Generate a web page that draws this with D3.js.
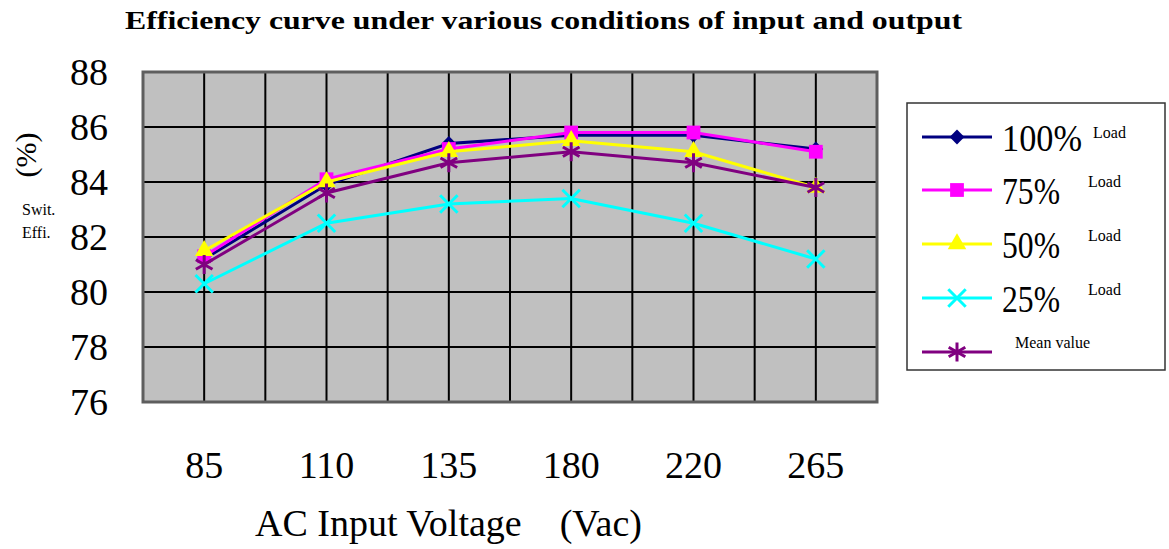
<!DOCTYPE html>
<html>
<head>
  <meta charset="utf-8"/>
  <title>Efficiency curve</title>
  <style>
    body { margin: 0; background: #fff; }
    svg text { font-family: "Liberation Serif", "DejaVu Serif", serif !important; }
  </style>
</head>
<body>
<div id="graph"></div>
<script src="https://cdn.jsdelivr.net/npm/d3@7/dist/d3.min.js"></script>
<script>
  // input voltages (Vac)
  var voltages = ["85", "110", "135", "180", "220", "265"];
  // efficiency (%) per load condition
  var load100 = [81.2, 83.9, 85.4, 85.7, 85.7, 85.2];
  var load75  = [81.3, 84.1, 85.2, 85.8, 85.8, 85.1];
  var load50  = [81.5, 84.0, 85.1, 85.5, 85.1, 83.8];
  var load25  = [80.3, 82.5, 83.2, 83.4, 82.5, 81.2];
  var meanVal = [81.0, 83.6, 84.7, 85.1, 84.7, 83.8];
  var yTicks = [76, 78, 80, 82, 84, 86, 88];

  var series = [
    {name: "100%", tag: "Load", values: load100, color: "#000080", sym: "diamond"},
    {name: "75%",  tag: "Load", values: load75,  color: "#ff00ff", sym: "square"},
    {name: "50%",  tag: "Load", values: load50,  color: "#ffff00", sym: "triangle"},
    {name: "25%",  tag: "Load", values: load25,  color: "#00ffff", sym: "times"},
    {name: "",     tag: "Mean value", values: meanVal, color: "#800080", sym: "asterisk"}
  ];

  var W = 1169, H = 549;
  var plot = {left: 143, right: 877, top: 72, bottom: 402};

  var svg = d3.select("#graph").append("svg")
      .attr("width", W).attr("height", H);

  var x = d3.scaleBand().domain(voltages).range([plot.left, plot.right]).padding(0);
  var y = d3.scaleLinear().domain([76, 88]).range([plot.bottom, plot.top]);
  var cx = function(d) { return x(d) + x.bandwidth() / 2; };

  // plot background
  svg.append("rect")
      .attr("x", plot.left).attr("y", plot.top)
      .attr("width", plot.right - plot.left).attr("height", plot.bottom - plot.top)
      .attr("fill", "#c0c0c0");

  // grid: band edges and band centres vertically, every tick horizontally
  var vlines = [];
  voltages.forEach(function(v, i) {
    if (i > 0) vlines.push(x(v));
    vlines.push(cx(v));
  });
  svg.append("g").selectAll("line").data(vlines).enter().append("line")
      .attr("x1", function(d) { return d; }).attr("x2", function(d) { return d; })
      .attr("y1", plot.top).attr("y2", plot.bottom)
      .attr("stroke", "#000").attr("stroke-width", 2);
  svg.append("g").selectAll("line").data(yTicks.slice(1, -1)).enter().append("line")
      .attr("x1", plot.left).attr("x2", plot.right)
      .attr("y1", function(d) { return y(d); }).attr("y2", function(d) { return y(d); })
      .attr("stroke", "#000").attr("stroke-width", 2);

  svg.append("rect")
      .attr("x", plot.left).attr("y", plot.top)
      .attr("width", plot.right - plot.left).attr("height", plot.bottom - plot.top)
      .attr("fill", "none").attr("stroke", "#5e5e5e").attr("stroke-width", 3);

  // axes
  var yAxis = svg.append("g")
      .attr("transform", "translate(" + plot.left + ",0)")
      .call(d3.axisLeft(y).tickValues(yTicks).tickSize(0).tickPadding(35));
  yAxis.select(".domain").remove();
  yAxis.selectAll("text").attr("font-size", 38).attr("fill", "#000");

  var xAxis = svg.append("g")
      .attr("transform", "translate(0," + plot.bottom + ")")
      .call(d3.axisBottom(x).tickSize(0).tickPadding(49));
  xAxis.select(".domain").remove();
  xAxis.selectAll("text").attr("font-size", 38).attr("fill", "#000");

  // lines and markers
  var line = d3.line()
      .x(function(d, i) { return cx(voltages[i]); })
      .y(function(d) { return y(d); });

  function marker(g, s, px, py) {
    var types = {
      diamond: d3.symbolSquare, square: d3.symbolSquare, triangle: d3.symbolTriangle,
      times: d3.symbolTimes, asterisk: d3.symbolAsterisk
    };
    var size = {diamond: 110, square: 190, triangle: 150, times: 200, asterisk: 260}[s.sym];
    var p = g.append("path")
        .attr("d", d3.symbol().type(types[s.sym]).size(size)())
        .attr("transform", "translate(" + px + "," + py + ")" + (s.sym === "diamond" ? " rotate(45)" : ""));
    if (s.sym === "times" || s.sym === "asterisk") {
      p.attr("fill", "none").attr("stroke", s.color).attr("stroke-width", 3);
    } else {
      p.attr("fill", s.color);
    }
  }

  series.forEach(function(s) {
    var g = svg.append("g");
    g.append("path").datum(s.values)
        .attr("d", line)
        .attr("fill", "none").attr("stroke", s.color).attr("stroke-width", 3);
    s.values.forEach(function(v, i) { marker(g, s, cx(voltages[i]), y(v)); });
  });

  // title
  svg.append("text")
      .attr("x", 125).attr("y", 29)
      .attr("font-size", 26).attr("font-weight", "bold")
      .attr("textLength", 837).attr("lengthAdjust", "spacingAndGlyphs")
      .text("Efficiency curve under various conditions of input and output");

  // axis titles
  svg.append("text")
      .attr("x", 255).attr("y", 536)
      .attr("font-size", 38)
      .attr("xml:space", "preserve")
      .text("AC Input Voltage    (Vac)");

  svg.append("text")
      .attr("transform", "translate(36,155) rotate(-90)")
      .attr("text-anchor", "middle")
      .attr("font-size", 30)
      .text("(%)");
  svg.append("text").attr("x", 22).attr("y", 215).attr("font-size", 16).text("Swit.");
  svg.append("text").attr("x", 22).attr("y", 238).attr("font-size", 16).text("Effi.");

  // legend
  var leg = svg.append("g");
  leg.append("rect")
      .attr("x", 907).attr("y", 103).attr("width", 258).attr("height", 267)
      .attr("fill", "#fff").attr("stroke", "#333").attr("stroke-width", 1.5);
  var rowY = [137, 190, 244, 298, 352];
  series.forEach(function(s, i) {
    var ry = rowY[i];
    leg.append("line")
        .attr("x1", 922).attr("x2", 992).attr("y1", ry).attr("y2", ry)
        .attr("stroke", s.color).attr("stroke-width", 3);
    marker(leg, s, 957, ry);
    if (s.name) {
      leg.append("text")
          .attr("x", 1002).attr("y", ry + 14)
          .attr("font-size", 38)
          .attr("textLength", s.name.length === 4 ? 80 : 58)
          .attr("lengthAdjust", "spacingAndGlyphs")
          .text(s.name);
      leg.append("text")
          .attr("x", i === 0 ? 1093 : 1088).attr("y", ry + 1 - (i === 0 ? 0 : 4))
          .attr("font-size", 16)
          .text(s.tag);
    } else {
      leg.append("text")
          .attr("x", 1015).attr("y", ry - 4)
          .attr("font-size", 16)
          .text(s.tag);
    }
  });
</script>
</body>
</html>
